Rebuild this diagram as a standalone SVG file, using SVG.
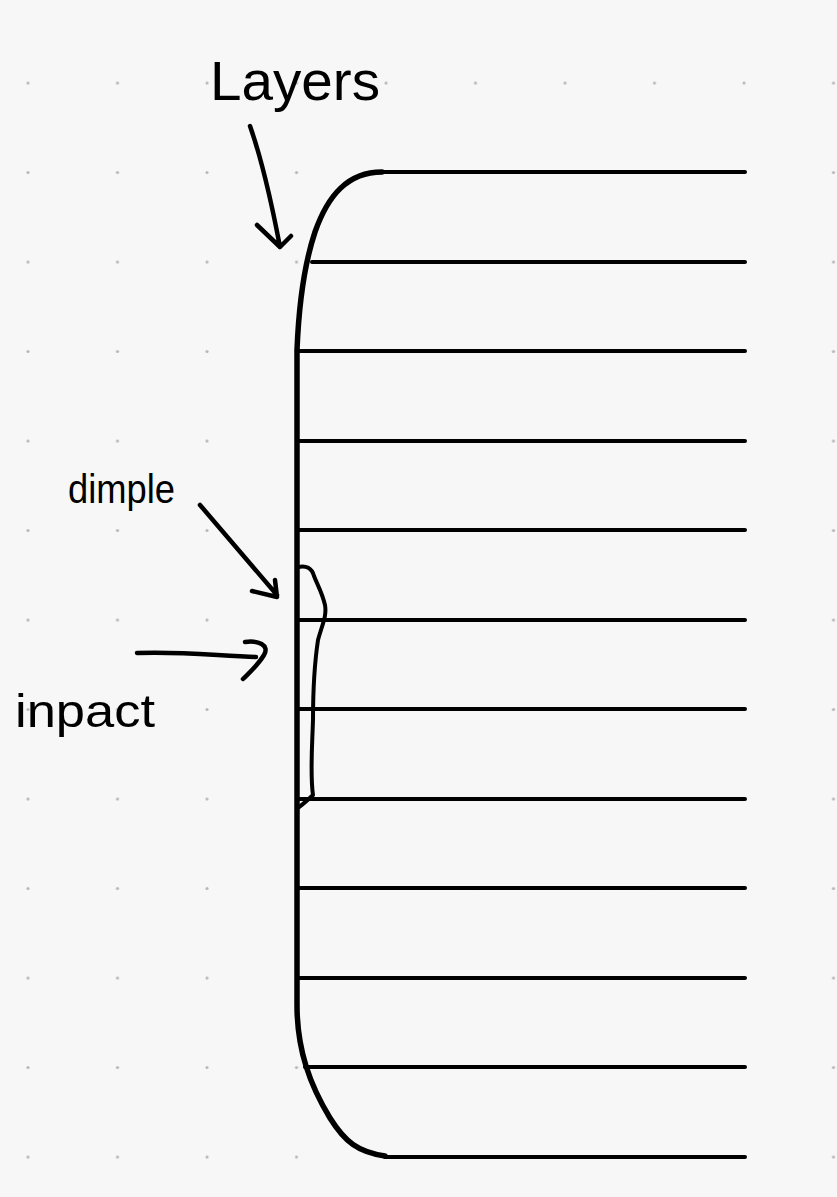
<svg xmlns="http://www.w3.org/2000/svg" width="837" height="1197" viewBox="0 0 837 1197">
<defs>
<style>
.ln{stroke:#000;stroke-width:4;fill:none;stroke-linecap:round}
.thick{stroke:#000;stroke-width:5.5;fill:none;stroke-linecap:round;stroke-linejoin:round}
.arr{stroke:#000;stroke-width:4.5;fill:none;stroke-linecap:round;stroke-linejoin:round}
.lbl{font-family:"Liberation Sans","DejaVu Sans",sans-serif;fill:#000}
</style>
<pattern id="dots" x="0" y="0" width="89.5" height="89.5" patternUnits="userSpaceOnUse">
<circle cx="28" cy="83" r="1.5" fill="#b5b5b5"/>
</pattern>
</defs>
<rect width="837" height="1197" fill="#f7f7f7"/>
<rect width="837" height="1197" fill="url(#dots)"/>
<g id="layers-stack">
<path class="ln" d="M380 172H745"/>
<path class="ln" d="M312 262H745"/>
<path class="ln" d="M298 351H745"/>
<path class="ln" d="M298 441H745"/>
<path class="ln" d="M298 530H745"/>
<path class="ln" d="M298 620H745"/>
<path class="ln" d="M298 709H745"/>
<path class="ln" d="M298 799H745"/>
<path class="ln" d="M298 888H745"/>
<path class="ln" d="M298 978H745"/>
<path class="ln" d="M305 1067H745"/>
<path class="ln" d="M385 1157H745"/>
<path class="thick" d="M382 172C348 172 328 195 315 232C305 262 299 300 297 350V1005C297 1050 310 1085 330 1118C345 1142 358 1152 385 1156"/>
</g>
<g id="dimple">
<path class="arr" style="stroke-width:4" d="M298 567C306 565 312 568 314 576C317 584 322 592 325 605C327 616 322 625 318 640C315 660 313 690 313 720C312 750 310 775 313 795C308 800 303 804 298 808"/>
</g>
<g id="label-layers">
<text class="lbl" x="210" y="100" font-size="56" textLength="170" lengthAdjust="spacingAndGlyphs">Layers</text>
<path class="arr" d="M250 126C262 160 272 205 280 247M257 225L280 247L291 236"/>
</g>
<g id="label-dimple">
<text class="lbl" x="68" y="503" font-size="40" textLength="107" lengthAdjust="spacingAndGlyphs">dimple</text>
<path class="arr" d="M200 505L277 595M252 591L277 597L275 580"/>
</g>
<g id="label-impact">
<text class="lbl" x="15" y="727" font-size="46" textLength="140" lengthAdjust="spacingAndGlyphs">inpact</text>
<path class="arr" d="M137 653C180 651 220 656 256 657M245 642C258 640 270 645 264 655C258 665 250 672 243 679"/>
</g>
</svg>
